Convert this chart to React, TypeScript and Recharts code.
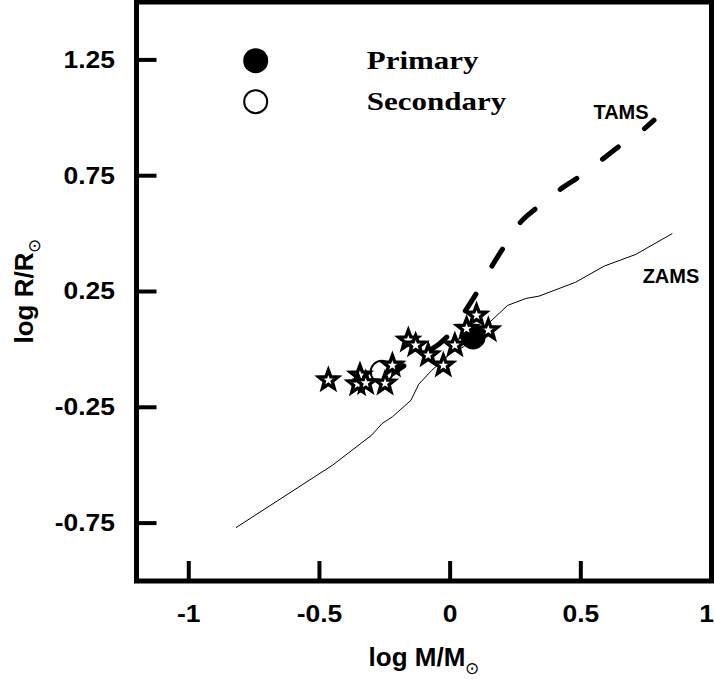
import React from 'react';
import { ComposedChart, Line, Scatter, XAxis, YAxis, ReferenceArea, Legend, Customized } from 'recharts';

// axis ticks
const xTicks = [-1, -0.5, 0, 0.5, 1];
const xTickLabels = ['-1', '-0.5', '0', '0.5', '1'];
const yTicks = [1.25, 0.75, 0.25, -0.25, -0.75];
const yTickLabels = ['1.25', '0.75', '0.25', '-0.25', '-0.75'];

// ZAMS (thin solid line)
const zamsX = [-0.82, -0.45, -0.30, -0.26, -0.22, -0.15, -0.12, -0.07, 0.01, 0.05, 0.22, 0.29, 0.34, 0.48, 0.59, 0.71, 0.85];
const zamsY = [-0.77, -0.50, -0.37, -0.32, -0.29, -0.22, -0.15, -0.09, -0.01, 0.01, 0.19, 0.22, 0.23, 0.29, 0.36, 0.41, 0.50];

// TAMS (thick dashed line)
const tamsX = [-0.24, -0.15, 0.0, 0.06, 0.11, 0.16, 0.21, 0.27, 0.33, 0.42, 0.50, 0.57, 0.65, 0.74, 0.78];
const tamsY = [-0.12, -0.05, 0.07, 0.17, 0.26, 0.36, 0.45, 0.55, 0.61, 0.69, 0.75, 0.81, 0.88, 0.95, 0.99];

// other binaries (stars)
const starX = [-0.466, -0.345, -0.354, -0.323, -0.249, -0.221, -0.160, -0.132, -0.084, -0.026, 0.018, 0.063, 0.101, 0.146];
const starY = [-0.133, -0.112, -0.150, -0.145, -0.147, -0.069, 0.039, 0.018, -0.025, -0.069, 0.018, 0.090, 0.147, 0.083];

// this system
const primaryX = [0.088];
const primaryY = [0.054];
const secondaryX = [-0.262];
const secondaryY = [-0.097];

const zip = (xs: number[], ys: number[]) => xs.map((x, i) => ({ x, y: ys[i] }));
const zamsData = zip(zamsX, zamsY);
const tamsData = zip(tamsX, tamsY);
const starData = zip(starX, starY);
const primaryData = zip(primaryX, primaryY);
const secondaryData = zip(secondaryX, secondaryY);

const SANS = "Arial, 'Liberation Sans', sans-serif";
const SERIF = "'Times New Roman', 'Liberation Serif', serif";

const StarShape = (props: any) => {
  const { cx, cy } = props;
  const pts: string[] = [];
  for (let k = 0; k < 10; k++) {
    const r = k % 2 === 0 ? 10 : 4.2;
    const a = -Math.PI / 2 + (k * Math.PI) / 5;
    pts.push(`${cx + r * Math.cos(a)},${cy + r * Math.sin(a)}`);
  }
  return <polygon points={pts.join(' ')} fill="#fff" stroke="#000" strokeWidth={3.4} />;
};

const FilledCircle = (props: any) => <circle cx={props.cx} cy={props.cy} r={12.5} fill="#000" />;
const OpenCircle = (props: any) => (
  <circle cx={props.cx} cy={props.cy} r={11} fill="#fff" stroke="#000" strokeWidth={2} />
);

// the original lettering is a little stretched sideways
const Stretched = ({ x, y, anchor, size, children }: any) => (
  <text transform={`translate(${x},${y}) scale(1.15,1)`} textAnchor={anchor} dominantBaseline="central"
    fontFamily={SANS} fontWeight="bold" fontSize={size} fill="#000">
    {children}
  </text>
);

const YTick = (props: any) => {
  const { x, y, index } = props;
  return (
    <g>
      <line x1={x} x2={x + 20} y1={y} y2={y} stroke="#000" strokeWidth={4} />
      <Stretched x={x - 21.5} y={y} anchor="end" size={23}>{yTickLabels[index]}</Stretched>
    </g>
  );
};

const XTick = (props: any) => {
  const { x, y, index } = props;
  const last = index === xTickLabels.length - 1;
  return (
    <g>
      <line x1={x} x2={x} y1={y} y2={y - 20} stroke="#000" strokeWidth={4} />
      <Stretched x={last ? 714 : x} y={y + 33} anchor={last ? 'end' : 'middle'} size={23}>
        {xTickLabels[index]}
      </Stretched>
    </g>
  );
};

const LegendBox = () => (
  <svg width={300} height={90}>
    <circle cx={15.7} cy={24.7} r={12.5} fill="#000" />
    <text transform="translate(126.7,33) scale(1.24,1)" fontFamily={SERIF} fontWeight="bold" fontSize={25}>Primary</text>
    <circle cx={15.7} cy={65.7} r={11.5} fill="#fff" stroke="#000" strokeWidth={2} />
    <text transform="translate(126.7,74) scale(1.24,1)" fontFamily={SERIF} fontWeight="bold" fontSize={25}>Secondary</text>
  </svg>
);

const Annotations = () => (
  <g fontFamily={SANS} fontWeight="bold" fill="#000">
    <text x={621} y={119} textAnchor="middle" fontSize={20}>TAMS</text>
    <text x={671} y={282.5} textAnchor="middle" fontSize={20}>ZAMS</text>
    <text x={33} y={291} transform="rotate(-90, 33, 291)" textAnchor="middle" fontSize={26}>
      log R/R<tspan fontSize={17} fontWeight="normal" dy={7}>⊙</tspan>
    </text>
    <text x={424} y={666} textAnchor="middle" fontSize={26}>
      log M/M<tspan fontSize={17} fontWeight="normal" dy={8}>⊙</tspan>
    </text>
  </g>
);

export default function App() {
  return (
    <div style={{ position: 'absolute', left: 0, top: 0, background: '#fff' }}>
      <ComposedChart width={714} height={688} margin={{ top: 2, right: 2.5, left: 0, bottom: 0 }}>
        <XAxis
          type="number"
          dataKey="x"
          domain={[-1.2, 1]}
          ticks={xTicks}
          allowDataOverflow
          axisLine={false}
          tickLine={false}
          tickSize={0}
          tickMargin={0}
          height={107}
          tick={<XTick />}
          interval={0}
        />
        <YAxis
          type="number"
          dataKey="y"
          domain={[-1, 1.5]}
          ticks={yTicks}
          allowDataOverflow
          axisLine={false}
          tickLine={false}
          tickSize={0}
          tickMargin={0}
          width={136.5}
          tick={<YTick />}
          interval={0}
        />
        <Legend
          layout="vertical"
          align="center"
          verticalAlign="middle"
          content={<LegendBox />}
          wrapperStyle={{ left: 240, top: 36, width: 300, height: 90 }}
        />
        <Line data={zamsData} dataKey="y" type="linear" stroke="#000" strokeWidth={1}
          dot={false} activeDot={false} isAnimationActive={false} legendType="none" />
        <Line data={tamsData} dataKey="y" type="monotone" stroke="#000" strokeWidth={5}
          strokeDasharray="20 32" strokeLinecap="round"
          dot={false} activeDot={false} isAnimationActive={false} legendType="none" />
        <Scatter data={secondaryData} dataKey="y" shape={<OpenCircle />} isAnimationActive={false} />
        <Scatter data={primaryData} dataKey="y" shape={<FilledCircle />} isAnimationActive={false} />
        <Scatter data={starData} dataKey="y" shape={<StarShape />} isAnimationActive={false} />
        <ReferenceArea x1={-1.2} x2={1} y1={-1} y2={1.5} fill="none" stroke="#000" strokeWidth={5} />
        <Customized component={Annotations} />
      </ComposedChart>
    </div>
  );
}
